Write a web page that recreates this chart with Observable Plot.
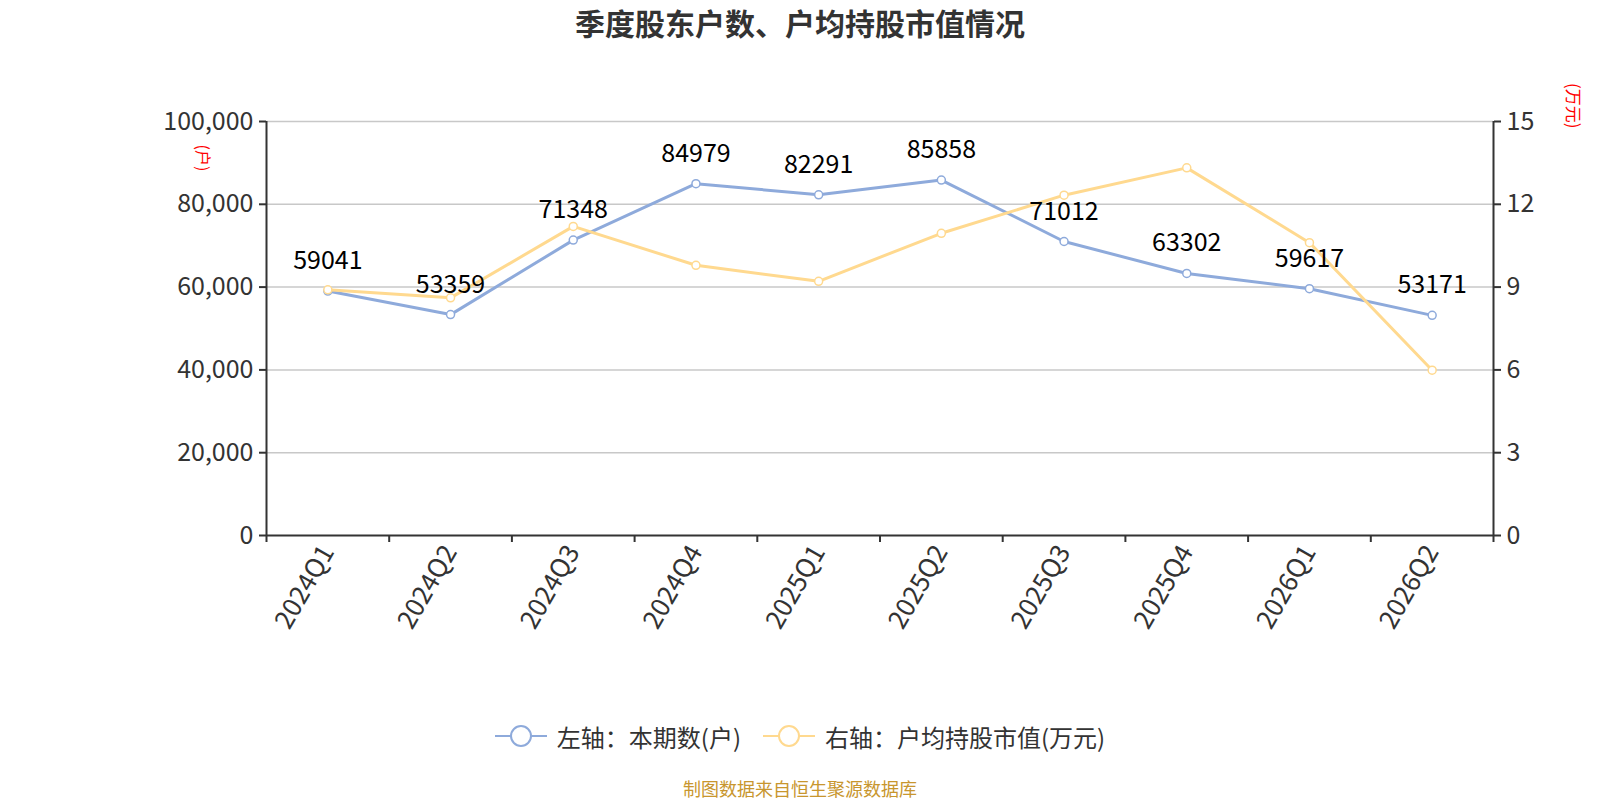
<!DOCTYPE html>
<html><head><meta charset="utf-8">
<script src="https://cdn.jsdelivr.net/npm/d3@7"></script>
<script src="https://cdn.jsdelivr.net/npm/@observablehq/plot@0.6"></script>
<style>
body{margin:0;background:#fff;font-family:"Noto Sans CJK SC","Noto Sans",sans-serif;}
#wrap{position:relative;width:1600px;height:800px;overflow:hidden;background:#fff;}
#title{position:absolute;left:0;top:2px;width:1600px;text-align:center;font-size:30px;font-weight:bold;color:#333;line-height:40px;}
#chart{position:absolute;left:0;top:60px;}
#legend{position:absolute;left:0;top:719px;width:1600px;height:34px;display:flex;justify-content:center;align-items:center;font-size:24px;color:#333;}
#legend .item{display:flex;align-items:center;margin:0 11px;}
#legend svg{margin-right:10px;}
#caption{position:absolute;left:0;top:776px;width:1600px;text-align:center;font-size:18px;color:#c8962e;line-height:24px;}
</style></head><body>
<div id="wrap">
<div id="title">季度股东户数、户均持股市值情况</div>
<div id="chart"></div>
<div id="legend"></div>
<div id="caption">制图数据来自恒生聚源数据库</div>
</div>
<script>
const quarters = ["2024Q1","2024Q2","2024Q3","2024Q4","2025Q1","2025Q2","2025Q3","2025Q4","2026Q1","2026Q2"];
const holders = [59041,53359,71348,84979,82291,85858,71012,63302,59617,53171];
const avgValue = [8.90,8.61,11.20,9.79,9.21,10.95,12.33,13.32,10.61,5.99];
const leftTicks = [0,20000,40000,60000,80000,100000];
const rightTicks = [0,3,6,9,12,15];
const seriesNames = ["左轴：本期数(户)","右轴：户均持股市值(万元)"];
const colors = ["#8eaadb","#ffd98f"];
const leftUnit = "(户)";
const rightUnit = "(万元)";

const leftMax = leftTicks[leftTicks.length-1];
const rightMax = rightTicks[rightTicks.length-1];
const K = leftMax / rightMax;
const data = quarters.map((q,i)=>({i:i+0.5,q,h:holders[i],v:avgValue[i],vs:avgValue[i]*K}));
const font = '"Noto Sans CJK SC","Noto Sans",sans-serif';

const chart = Plot.plot({
  width:1600, height:640,
  marginLeft:266, marginRight:107, marginTop:61, marginBottom:165,
  x:{type:"linear", domain:[0,quarters.length], axis:null, label:null},
  y:{type:"linear", domain:[0,leftMax], axis:null, label:null},
  style:{fontFamily:font, fontSize:"25px", color:"#333", background:"#fff", overflow:"visible"},
  marks:[
    Plot.gridY(leftTicks.slice(1), {stroke:"#c8c8c8", strokeOpacity:1, strokeWidth:1.5}),
    Plot.ruleX([0, quarters.length], {stroke:"#333", strokeWidth:2}),
    Plot.ruleY([0], {stroke:"#333", strokeWidth:2}),
    Plot.axisY(leftTicks, {anchor:"left", label:null, tickFormat:d3.format(","), tickSize:7, tickPadding:6, stroke:"#333", strokeWidth:2, fontSize:25, fill:"#333"}),
    Plot.axisY(rightTicks.map(t=>t*K), {anchor:"right", label:null, tickFormat:d=>String(Math.round(d/K)), tickSize:7, tickPadding:6, stroke:"#333", strokeWidth:2, fontSize:25, fill:"#333"}),
    Plot.axisX(d3.range(quarters.length+1), {anchor:"bottom", label:null, tickFormat:()=>"", tickSize:7, stroke:"#333", strokeWidth:2}),
    Plot.axisX(data.map(d=>d.i), {anchor:"bottom", label:null, tickFormat:d=>quarters[Math.floor(d)], tickSize:0, tickPadding:12, tickRotate:-60, fontSize:26, fill:"#333"}),
    Plot.line(data,{x:"i",y:"h",stroke:colors[0],strokeWidth:3}),
    Plot.dot(data,{x:"i",y:"h",r:4,fill:"#fff",stroke:colors[0],strokeWidth:1.5}),
    Plot.line(data,{x:"i",y:"vs",stroke:colors[1],strokeWidth:3}),
    Plot.dot(data,{x:"i",y:"vs",r:4,fill:"#fff",stroke:colors[1],strokeWidth:1.5}),
    Plot.text(data,{x:"i",y:"h",text:d=>String(d.h),dy:-30,fontSize:25,fill:"#000"}),
    Plot.text([leftUnit],{frameAnchor:"top-left",dx:-58,dy:23,rotate:90,fill:"red",fontSize:16}),
    Plot.text([rightUnit],{frameAnchor:"top-right",dx:86,dy:7,rotate:90,fill:"red",fontSize:17})
  ]
});
document.getElementById("chart").appendChild(chart);

const legend = document.getElementById("legend");
seriesNames.forEach((name,k)=>{
  const item = document.createElement("div");
  item.className = "item";
  item.innerHTML = `<svg width="52" height="26"><line x1="0" y1="13" x2="52" y2="13" stroke="${colors[k]}" stroke-width="2"/><circle cx="26" cy="13" r="10" fill="#fff" stroke="${colors[k]}" stroke-width="2"/></svg><span>${name}</span>`;
  legend.appendChild(item);
});
</script>
</body></html>
